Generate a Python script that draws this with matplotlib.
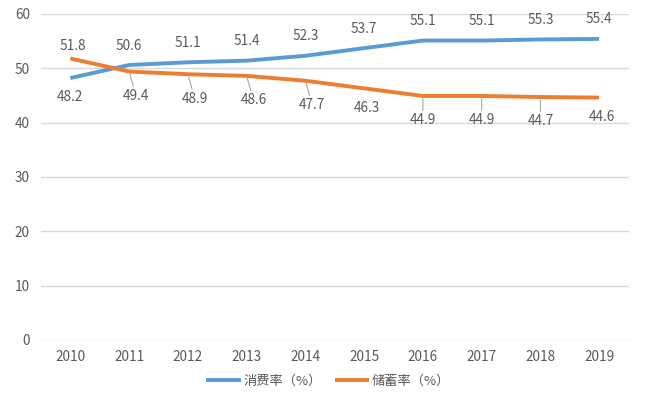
import matplotlib
matplotlib.use('Agg')
import matplotlib.pyplot as plt

plt.rcParams['font.family'] = ['Noto Sans CJK SC', 'DejaVu Sans']

years = ['2010', '2011', '2012', '2013', '2014', '2015', '2016', '2017', '2018', '2019']
consume = [48.2, 50.6, 51.1, 51.4, 52.3, 53.7, 55.1, 55.1, 55.3, 55.4]
save = [51.8, 49.4, 48.9, 48.6, 47.7, 46.3, 44.9, 44.9, 44.7, 44.6]
labels = ['消费率（%）', '储蓄率（%）']

blue = '#5B9BD5'
orange = '#ED7D31'
txt = '#595959'

fig = plt.figure(figsize=(6.5, 3.98), dpi=100)
ax = fig.add_axes([0.063, 0.146, 0.904, 0.819])

x = list(range(len(years)))
ax.plot(x, consume, color=blue, lw=2.8, label=labels[0], solid_capstyle='butt')
ax.plot(x, save, color=orange, lw=2.8, label=labels[1], solid_capstyle='butt')

# data labels
for i in x:
    # blue: above, except first one below
    dy = -14 if i == 0 else 14
    ax.annotate('%.1f' % consume[i], (i, consume[i]), xytext=(0, dy), textcoords='offset points',
                ha='center', va='center', fontsize=9.8, color=txt)
    # orange: below, except first one above
    if i == 0:
        ax.annotate('%.1f' % save[i], (i, save[i]), xytext=(2, 9), textcoords='offset points',
                    ha='center', va='center', fontsize=9.8, color=txt)
    elif i in (5, 9):
        ax.annotate('%.1f' % save[i], (i, save[i]), xytext=(2, -14), textcoords='offset points',
                    ha='center', va='center', fontsize=9.8, color=txt)
    else:
        dx = 5 if i < 5 else 0
        ax.annotate('%.1f' % save[i], (i, save[i]), xytext=(dx, -17.5), textcoords='offset points',
                    ha='center', va='center', fontsize=9.8, color=txt,
                    arrowprops=dict(arrowstyle='-', color='#a6a6a6', lw=0.8, shrinkA=0, shrinkB=2))

ax.set_xlim(-0.5, len(years) - 0.5)
ax.set_ylim(0, 60)
ax.set_yticks(range(0, 61, 10))
ax.set_xticks(x)
ax.set_xticklabels(years)
ax.grid(axis='y', color='#d9d9d9', lw=1)
ax.set_axisbelow(True)
for s in ax.spines.values():
    s.set_visible(False)
ax.tick_params(length=0, colors=txt, labelsize=9.8)
ax.tick_params(axis='y', pad=8)
ax.tick_params(axis='x', pad=7)

fig.legend(loc='lower center', bbox_to_anchor=(0.505, -0.005), ncol=2, frameon=False,
           fontsize=9.5, labelcolor=txt, handlelength=2.6, handletextpad=0.2, columnspacing=1.0)

fig.savefig('out.png', dpi=100)
